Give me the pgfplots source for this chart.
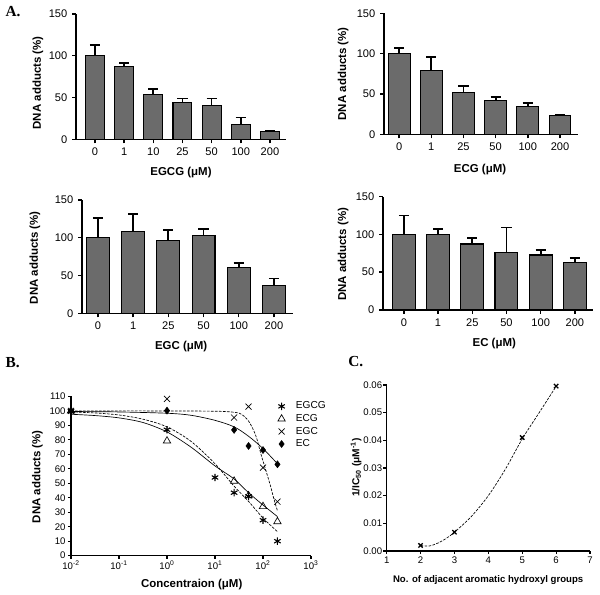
\documentclass[border=0pt]{standalone}
\usepackage{fontspec}
\setmainfont{Liberation Sans}
\newfontfamily\serifb{Liberation Serif}
\usepackage{pgfplots}
\pgfplotsset{compat=1.18}
\pgfplotsset{
  gpbase/.style={
    scale only axis,
    axis x line*=bottom, axis y line*=left,
    axis line style={-, line width=1.1pt},
    tick align=outside,
    major tick length=3pt,
    every tick/.style={black, line width=1.1pt},
    /pgf/number format/assume math mode=true,
    tick label style={font=\fontsize{8.3}{9}\selectfont, black},
    label style={font=\bfseries\fontsize{8.6}{10}\selectfont},
    xlabel style={anchor=center},
    ylabel style={anchor=center},
  },
  barpanel/.style={gpbase, ybar, ymin=0, ymax=150, ytick={0,50,100,150}, xtick=data,
    xtick pos=bottom, ytick pos=left},
  barplot/.style={fill=black!58, draw=black, line width=0.8pt,
    error bars/.cd, y dir=plus, y explicit,
    error bar style={line width=1.3pt, black},
    error mark options={rotate=90, line width=1.3pt, mark size=3.8pt, black}},
  linepanel/.style={gpbase, axis line style={-, line width=0.9pt},
    every tick/.style={black, line width=0.9pt}, major tick length=2.4pt,
    tick label style={font=\fontsize{7.2}{8}\selectfont, black, inner sep=1.5pt},
    xtick pos=bottom, ytick pos=left},
  mklegend/.style={legend image code/.code={\path[draw=none, fill=none] (-0.15cm,-0.01cm) rectangle (0.32cm,0.01cm); \draw[##1] plot coordinates {(0cm,0cm)};}},
}
\begin{document}
\begin{tikzpicture}
\useasboundingbox (0,0) rectangle (450pt,446.25pt);
\node[anchor=base west, inner sep=0pt, font=\serifb\bfseries\fontsize{11.5}{12}\selectfont] at (4pt,433.5pt) {A.};
\node[anchor=base west, inner sep=0pt, font=\serifb\bfseries\fontsize{11.5}{12}\selectfont] at (4pt,170.25pt) {B.};
\node[anchor=base west, inner sep=0pt, font=\serifb\bfseries\fontsize{11.5}{12}\selectfont] at (261pt,171pt) {C.};

% A1 EGCG
\begin{axis}[barpanel, at={(57pt,341.8pt)}, anchor=south west, width=157.5pt, height=94pt,
  xmin=-0.65, xmax=6.55, bar width=0.65,
  xticklabels={0,1,10,25,50,100,200},
  xlabel={EGCG (μM)}, ylabel={DNA adducts (\%)},
  xlabel style={at={(axis description cs:0.5,-0.269)}},
  ylabel style={at={(axis description cs:-0.181,0.45)}}]
\addplot[barplot] coordinates {(0,100) +- (0,12.9) (1,87) +- (0,4) (2,54) +- (0,6.2) (3,43.5) +- (0,5.2) (4,40.3) +- (0,8.4) (5,18) +- (0,8) (6,9.6) +- (0,0.8)};
\end{axis}

% A2 ECG
\begin{axis}[barpanel, at={(288pt,345.5pt)}, anchor=south west, width=145.5pt, height=90.75pt,
  xmin=-0.47, xmax=5.56, bar width=0.68,
  xticklabels={0,1,25,50,100,200},
  xlabel={ECG (μM)}, ylabel={DNA adducts (\%)},
  xlabel style={at={(axis description cs:0.495,-0.287)}},
  ylabel style={at={(axis description cs:-0.211,0.5)}}]
\addplot[barplot] coordinates {(0,100.4) +- (0,7) (1,79.3) +- (0,16.6) (2,51.7) +- (0,8.2) (3,41.7) +- (0,5) (4,34.7) +- (0,3.7) (5,23.6) +- (0,0.8)};
\end{axis}

% A3 EGC
\begin{axis}[barpanel, at={(61.5pt,211.3pt)}, anchor=south west, width=158.25pt, height=85pt,
  xmin=-0.45, xmax=5.54, bar width=0.65,
  xticklabels={0,1,25,50,100,200},
  xlabel={EGC (μM)}, ylabel={DNA adducts (\%)},
  xlabel style={at={(axis description cs:0.47,-0.297)}},
  ylabel style={at={(axis description cs:-0.223,0.49)}}]
\addplot[barplot] coordinates {(0,100) +- (0,26) (1,108.4) +- (0,23.3) (2,96) +- (0,14) (3,103) +- (0,8.9) (4,60.8) +- (0,6.2) (5,37) +- (0,9)};
\end{axis}

% A4 EC
\begin{axis}[barpanel, at={(287.25pt,213.75pt)}, anchor=south west, width=157.5pt, height=85.1pt,
  xmin=-0.61, xmax=5.53, bar width=0.67,
  xticklabels={0,1,25,50,100,200},
  xlabel={EC (μM)}, ylabel={DNA adducts (\%)},
  xlabel style={at={(axis description cs:0.53,-0.30)}},
  ylabel style={at={(axis description cs:-0.19,0.49)}}]
\addplot[barplot] coordinates {(0,100) +- (0,25) (1,100.4) +- (0,6.6) (2,87.2) +- (0,7.8) (3,76.2) +- (0,33) (4,72.7) +- (0,6.6) (5,63) +- (0,6.2)};
\end{axis}

% B
\begin{axis}[linepanel, at={(53.25pt,29.5pt)}, anchor=south west, width=180pt, height=119.4pt,
  xmode=log, xmin=0.01, xmax=1000, ymin=0, ymax=110,
  xtick={0.01,0.1,1,10,100,1000},
  xticklabels={10\textsuperscript{-2},10\textsuperscript{-1},10\textsuperscript{0},10\textsuperscript{1},10\textsuperscript{2},10\textsuperscript{3}},
  xminorticks=false,
  ytick={0,10,20,30,40,50,60,70,80,90,100,110},
  xlabel={Concentraion (μM)}, ylabel={DNA adducts (\%)},
  xlabel style={at={(axis description cs:0.503,-0.184)}},
  ylabel style={at={(axis description cs:-0.14,0.496)}},
  clip=false,
  legend style={at={(0.836,0.998)}, anchor=north west, draw=none, fill=none,
    font=\fontsize{7.6}{8}\selectfont, row sep=-0.6pt, nodes={inner sep=1.6pt}},
  legend cell align=left]
\addplot[only marks, mark=asterisk, mark size=2.8pt, black, thick, mklegend] coordinates {(0.01,100) (1,87) (10,54) (25,43.5) (50,41) (100,24.5) (200,10)};
\addlegendentry{EGCG}
\addplot[only marks, mark=triangle, mark size=3.2pt, black, line width=0.5pt, mklegend] coordinates {(0.01,100) (1,79.3) (25,51.5) (50,41.5) (100,34) (200,23.5)};
\addlegendentry{ECG}
\addplot[only marks, mark=x, mark size=3.2pt, black, line width=0.5pt, mklegend] coordinates {(0.01,100) (1,108.3) (25,95.4) (50,103) (100,60.8) (200,37.3)};
\addlegendentry{EGC}
\addplot[only marks, mark=diamond*, mark size=2.6pt, black, mklegend] coordinates {(0.01,100) (1,100.2) (25,86.9) (50,75.8) (100,73) (200,63.1)};
\addlegendentry{EC}
% fitted curves
\addplot[forget plot, black, line width=0.5pt, dash pattern=on 2pt off 1pt, smooth] coordinates {(0.01,99.3) (0.0316,98.6) (0.1,97.2) (0.316,94.3) (1,89) (3.16,79) (10,63.5) (25,48) (50,37.5) (100,26) (200,16.6)};
\addplot[forget plot, black, line width=0.5pt, smooth] coordinates {(0.01,97.7) (0.0316,96.8) (0.1,95.2) (0.316,92) (1,85.5) (3.16,75) (10,62) (25,53) (50,43.5) (100,35) (200,27)};
\addplot[forget plot, black, line width=0.5pt, smooth] coordinates {(0.01,99.6) (0.1,99.3) (1,98.4) (3.16,97) (10,93.5) (25,89) (50,82.5) (100,74) (200,63.5)};
\addplot[forget plot, black, line width=0.5pt, dash pattern=on 2pt off 1pt, smooth] coordinates {(0.01,100) (1,100) (10,99.8) (20,99.4) (31.6,98.5) (39.8,96.5) (50,93) (63,87) (74,81) (91,70) (112,60) (141,49) (166,40) (200,31)};
\end{axis}

% C
\begin{axis}[linepanel, at={(290pt,33pt)}, anchor=south west, width=152.5pt, height=124.5pt,
  xmin=1, xmax=7, ymin=0, ymax=0.06,
  xtick={1,2,3,4,5,6,7},
  ytick={0,0.01,0.02,0.03,0.04,0.05,0.06},
  scaled y ticks=false,
  yticklabel style={inner sep=0.8pt, /pgf/number format/.cd, fixed, fixed zerofill, precision=2},
  xlabel={No. of adjacent aromatic hydroxyl groups},
  ylabel={1/IC\textsubscript{50} (μM\textsuperscript{-1})},
  xlabel style={font=\bfseries\fontsize{7.2}{9}\selectfont, at={(axis description cs:0.499,-0.175)}},
  ylabel style={font=\bfseries\fontsize{7.6}{9}\selectfont, at={(axis description cs:-0.15,0.503)}},
  clip=false]
\addplot[black, line width=0.5pt, dash pattern=on 2pt off 1pt, smooth] coordinates {(2,0.0020) (2.25,0.0018) (2.5,0.0028) (2.75,0.0045) (3,0.0068) (3.5,0.0125) (4,0.0200) (4.5,0.0295) (5,0.0405) (5.5,0.0500) (6,0.0595)};
\addplot[only marks, mark=x, mark size=2.3pt, black, line width=1pt] coordinates {(2,0.0020) (3,0.0068) (5,0.0410) (6,0.0596)};
\end{axis}
\end{tikzpicture}
\end{document}
